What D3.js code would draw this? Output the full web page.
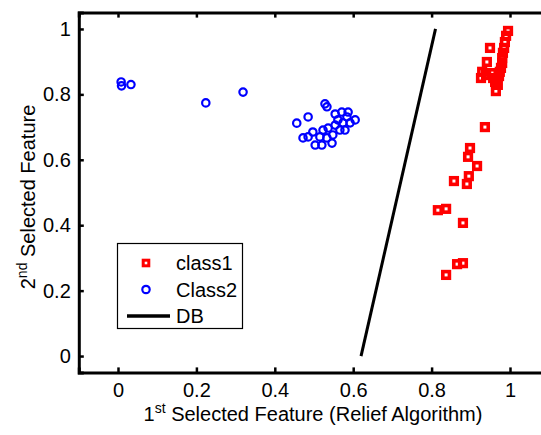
<!DOCTYPE html>
<html><head><meta charset="utf-8">
<script src="https://cdn.jsdelivr.net/npm/d3@7/dist/d3.min.js"></script>
<style>body{margin:0;background:#fff}text{font-family:"Liberation Sans",Arial,sans-serif;}</style>
</head><body><svg id="c" width="541" height="435"></svg>
<script>
const class1X = [0.995,0.990,0.987,0.985,0.982,0.980,0.980,0.977,0.974,0.972,0.967,0.962,0.957,0.954,0.949,0.941,0.939,0.929,0.926,0.964,0.969,0.936,0.898,0.893,0.916,0.895,0.857,0.890,0.816,0.837,0.880,0.880,0.865,0.837];
const class1Y = [0.994,0.979,0.960,0.942,0.927,0.911,0.896,0.881,0.869,0.856,0.844,0.838,0.850,0.865,0.942,0.899,0.859,0.869,0.850,0.810,0.829,0.700,0.636,0.609,0.581,0.550,0.535,0.526,0.446,0.450,0.407,0.284,0.281,0.248];
const class2X = [0.008,0.009,0.033,0.224,0.319,0.456,0.485,0.528,0.533,0.554,0.571,0.587,0.605,0.472,0.497,0.485,0.503,0.520,0.546,0.523,0.536,0.548,0.566,0.574,0.584,0.561,0.515,0.533,0.554,0.592,0.579];
const class2Y = [0.838,0.826,0.830,0.774,0.807,0.712,0.731,0.771,0.762,0.740,0.746,0.746,0.722,0.667,0.685,0.670,0.645,0.645,0.651,0.691,0.697,0.676,0.691,0.713,0.731,0.722,0.670,0.667,0.706,0.713,0.691];
const dbX = [0.62,0.81];
const dbY = [0,1];
const tickVals = [0,0.2,0.4,0.6,0.8,1];
const legendLabels = ["class1","Class2","DB"];

const svg = d3.select("#c");
const x = d3.scaleLinear().domain([-0.1,1.1]).range([78.8,549.2]);
const y = d3.scaleLinear().domain([-0.05,1.05]).range([372.4,12.6]);
const fs = 20;

// DB line
svg.append("path").datum(dbX.map((d,i)=>[d,dbY[i]]))
  .attr("d", d3.line().x(d=>x(d[0])).y(d=>y(d[1])))
  .attr("stroke","#000").attr("stroke-width",3).attr("fill","none");

// class2 circles
svg.append("g").selectAll("circle").data(class2X.map((d,i)=>[d,class2Y[i]])).join("circle")
  .attr("cx",d=>x(d[0])).attr("cy",d=>y(d[1])).attr("r",3.7)
  .attr("fill","none").attr("stroke","#0000ff").attr("stroke-width",2.2);

// class1 squares
svg.append("g").selectAll("rect").data(class1X.map((d,i)=>[d,class1Y[i]])).join("rect")
  .attr("x",d=>x(d[0])-3.3).attr("y",d=>y(d[1])-3.3).attr("width",6.6).attr("height",6.6)
  .attr("fill","none").attr("stroke","#ff0000").attr("stroke-width",3.6);

// axes
const axB = svg.append("g").attr("transform",`translate(0,${y(-0.05)})`)
  .call(d3.axisBottom(x).tickValues(tickVals).tickSize(-5).tickFormat(d3.format("~g")));
const axT = svg.append("g").attr("transform",`translate(0,${y(1.05)})`)
  .call(d3.axisTop(x).tickValues(tickVals).tickSize(-5).tickFormat(""));
const axL = svg.append("g").attr("transform",`translate(${x(-0.1)},0)`)
  .call(d3.axisLeft(y).tickValues(tickVals).tickSize(-5).tickPadding(8).tickFormat(d3.format("~g")));
[axB,axT,axL].forEach(a=>{
  a.select(".domain").attr("stroke-width",3).attr("stroke","#000");
  a.selectAll(".tick line").attr("stroke-width",2.5).attr("stroke","#000");
  a.selectAll("text").attr("font-size",fs).attr("font-family","Liberation Sans, Arial, sans-serif").attr("fill","#000");
});
axB.selectAll(".tick text").attr("dy","0.71em").attr("y",10);

// axis titles
const xt = svg.append("text").attr("x",313).attr("y",421).attr("text-anchor","middle").attr("font-size",fs);
xt.append("tspan").text("1");
xt.append("tspan").text("st").attr("font-size",14).attr("dy",-8);
xt.append("tspan").text(" Selected Feature (Relief Algorithm)").attr("dy",8);

const yt = svg.append("text").attr("transform","translate(35,197) rotate(-90)").attr("text-anchor","middle").attr("font-size",fs);
yt.append("tspan").text("2");
yt.append("tspan").text("nd").attr("font-size",14).attr("dy",-8);
yt.append("tspan").text(" Selected Feature").attr("dy",8);

// legend
const lg = svg.append("g");
lg.append("rect").attr("x",117.5).attr("y",243.5).attr("width",125).attr("height",85)
  .attr("fill","#fff").attr("stroke","#000").attr("stroke-width",1.2);
const ly = [263,289.5,316];
lg.append("rect").attr("x",146-2.8).attr("y",ly[0]-2.8).attr("width",5.6).attr("height",5.6)
  .attr("fill","none").attr("stroke","#ff0000").attr("stroke-width",3);
lg.append("circle").attr("cx",146).attr("cy",ly[1]).attr("r",3.7)
  .attr("fill","none").attr("stroke","#0000ff").attr("stroke-width",2.2);
lg.append("line").attr("x1",127).attr("x2",170).attr("y1",ly[2]).attr("y2",ly[2])
  .attr("stroke","#000").attr("stroke-width",3.5);
legendLabels.forEach((t,i)=>{
  lg.append("text").attr("x",176).attr("y",ly[i]).attr("dy","0.35em").attr("font-size",fs).text(t);
});
</script></body></html>
